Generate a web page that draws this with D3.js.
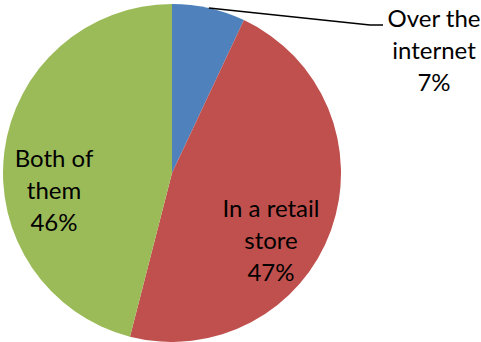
<!DOCTYPE html>
<html>
<head>
<meta charset="utf-8">
<script src="https://cdn.jsdelivr.net/npm/d3@7"></script>
<style>
  html, body { margin: 0; padding: 0; background: #fff; }
  svg { display: block; }
  text { font-family: Lato, "Open Sans", sans-serif; font-size: 24px; fill: #000; }
</style>
</head>
<body>
<svg id="chart" width="481" height="342"></svg>
<script>
// Where customers buy: share of respondents
const categories = ["Over the internet", "In a retail store", "Both of them"];
const shares = [7, 47, 46];
const labelLines = [
  ["Over the", "internet", "7%"],
  ["In a retail", "store", "47%"],
  ["Both of", "them", "46%"]
];
const colors = ["#4F81BD", "#C0504D", "#9BBB59"];

const svg = d3.select("#chart");
const cx = 172, cy = 173, radius = 169;

const pie = d3.pie().value(d => d).sort(null);
const arc = d3.arc().innerRadius(0).outerRadius(radius);
const arcs = pie(shares);

const g = svg.append("g").attr("transform", `translate(${cx},${cy})`);

g.selectAll("path.slice")
  .data(arcs)
  .join("path")
  .attr("class", "slice")
  .attr("d", arc)
  .attr("fill", (d, i) => colors[i]);

// label block centres (x of centre line, baseline of first line), relative to the page
const labelAnchors = [
  { x: 434, y: 27, outside: true },
  { x: 271, y: 217 },
  { x: 54, y: 167 }
];
const lineHeight = 32;

// leader line for the outside label, starting on the rim at the slice's mid angle
arcs.forEach((d, i) => {
  if (!labelAnchors[i].outside) return;
  const mid = (d.startAngle + d.endAngle) / 2;
  const sx = cx + radius * Math.sin(mid);
  const sy = cy - radius * Math.cos(mid);
  const a = labelAnchors[i];
  const elbowY = a.y - 2;
  svg.append("polyline")
    .attr("points", `${sx},${sy} ${a.x - 64},${elbowY} ${a.x - 51},${elbowY}`)
    .attr("fill", "none")
    .attr("stroke", "#000")
    .attr("stroke-width", 1.5);
});

labelLines.forEach((lines, i) => {
  const a = labelAnchors[i];
  const t = svg.append("text")
    .attr("text-anchor", "middle")
    .attr("x", a.x)
    .attr("y", a.y);
  lines.forEach((ln, j) => {
    t.append("tspan")
      .attr("x", a.x)
      .attr("y", a.y + j * lineHeight)
      .text(ln);
  });
});
</script>
</body>
</html>
